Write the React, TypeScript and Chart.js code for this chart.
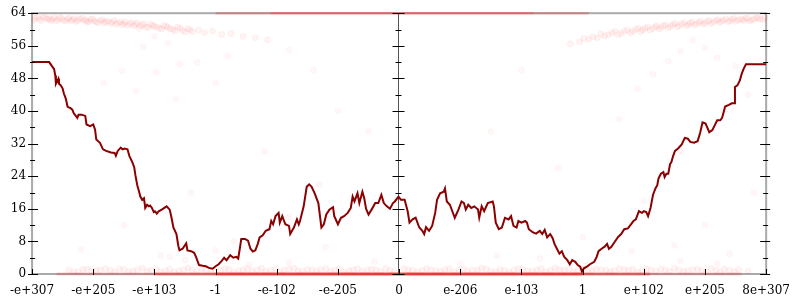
import React, { useEffect, useRef } from "react";
import { Chart, registerables } from "chart.js";
Chart.register(...registerables);

// x axis: 13 evenly spaced tick positions (0..1200, step 100)
const xTickLabels = ["-e+307", "-e+205", "-e+103", "-1", "-e-102", "-e-205", "0", "e-206", "e-103", "1", "e+102", "e+205", "8e+307"];
const yTicks = [0, 8, 16, 24, 32, 40, 48, 56, 64];

// main dark-red series [x, y]
const mainSeries: [number, number][] = [
  [0, 52.0], [28, 52.0], [34, 50.7], [36, 50.3], [38, 48.7], [39, 46.7], [43, 47.9], [44, 46.7], [47, 46.3], [50, 45.5],
  [52, 44.3], [55, 43.1], [58, 41.1], [60, 40.9], [63, 40.7], [66, 40.3], [68, 39.5], [74, 38.3], [76, 39.1], [81, 39.1],
  [87, 38.8], [89, 36.7], [95, 36.3], [100, 36.7], [103, 35.4], [105, 33.0], [111, 32.2], [116, 30.6], [121, 30.2], [129, 29.8],
  [135, 29.7], [137, 29.0], [140, 30.2], [145, 31.0], [148, 30.6], [151, 30.8], [156, 30.6], [159, 29.0], [164, 27.4], [167, 26.2],
  [169, 24.2], [172, 21.8], [175, 20.2], [177, 19.0], [180, 18.2], [183, 18.6], [185, 16.2], [188, 17.0], [191, 16.6], [193, 16.8],
  [196, 16.2], [199, 15.2], [201, 15.4], [204, 14.8], [207, 15.4], [212, 15.8], [220, 16.6], [225, 15.8], [228, 13.8], [231, 11.4],
  [236, 9.8], [239, 7.0], [241, 5.8], [246, 6.2], [252, 7.5], [254, 5.8], [260, 5.6], [265, 5.2], [268, 4.2], [271, 3.0],
  [273, 2.2], [279, 2.0], [284, 1.9], [289, 1.5], [295, 1.3], [300, 1.9], [305, 2.4], [310, 3.2], [314, 4.0], [318, 3.4],
  [324, 4.6], [329, 4.0], [334, 4.2], [337, 3.8], [340, 6.6], [342, 8.6], [348, 8.6], [353, 8.2], [357, 6.2], [361, 5.5],
  [365, 5.8], [369, 7.4], [372, 9.0], [377, 9.5], [382, 10.6], [388, 11.0], [391, 13.0], [394, 12.2], [398, 14.2], [403, 15.0],
  [405, 12.6], [409, 14.2], [414, 12.2], [420, 11.8], [422, 9.8], [428, 11.4], [433, 13.4], [436, 12.2], [438, 13.0], [444, 16.6],
  [449, 21.4], [453, 22.0], [457, 21.4], [462, 19.8], [468, 17.4], [473, 11.4], [477, 12.2], [481, 14.6], [486, 15.8], [492, 16.4],
  [494, 14.2], [500, 12.2], [505, 13.8], [510, 14.2], [516, 15.0], [521, 16.2], [524, 19.0], [527, 17.8], [532, 19.8], [535, 17.4],
  [540, 20.2], [543, 18.6], [546, 16.0], [550, 14.6], [555, 15.8], [561, 17.4], [566, 17.4], [571, 19.4], [575, 17.4], [580, 16.6],
  [585, 16.0], [590, 17.4], [593, 17.8], [599, 19.0], [603, 18.2], [609, 18.2], [614, 15.4], [617, 12.6], [622, 13.4], [627, 13.8],
  [633, 11.4], [638, 10.6], [641, 9.8], [644, 11.5], [649, 10.6], [654, 11.8], [659, 15.0], [662, 18.2], [667, 19.8], [673, 20.2],
  [675, 21.0], [678, 17.8], [683, 17.0], [687, 15.4], [691, 13.8], [697, 15.8], [702, 17.8], [706, 17.4], [709, 15.8], [713, 17.0],
  [718, 16.2], [723, 16.6], [729, 15.8], [731, 13.8], [735, 16.6], [739, 15.4], [745, 17.4], [753, 17.8], [755, 16.6], [758, 12.6],
  [763, 11.0], [768, 11.4], [773, 13.8], [779, 13.4], [783, 14.2], [787, 11.8], [792, 11.4], [795, 13.0], [800, 12.6], [806, 13.0],
  [809, 12.6], [812, 11.0], [819, 10.2], [824, 9.9], [830, 10.6], [834, 9.8], [838, 10.8], [842, 9.0], [847, 9.8], [851, 8.8],
  [854, 7.4], [858, 6.2], [862, 5.0], [866, 5.6], [870, 4.2], [875, 3.4], [879, 2.4], [883, 3.4], [888, 3.0], [892, 2.2],
  [896, 1.8], [899, 0.6], [902, 1.4], [907, 1.8], [912, 2.4], [919, 3.0], [923, 4.2], [926, 5.6], [931, 6.2], [936, 6.7],
  [940, 7.4], [943, 6.2], [947, 6.7], [952, 7.8], [958, 9.1], [963, 9.8], [968, 11.0], [974, 11.2], [979, 12.2], [983, 13.0],
  [987, 13.4], [992, 15.4], [997, 15.0], [1000, 15.4], [1004, 15.2], [1007, 14.2], [1011, 16.2], [1015, 19.4], [1019, 21.0], [1022, 21.8],
  [1024, 23.4], [1028, 24.6], [1032, 25.0], [1034, 23.8], [1037, 24.6], [1040, 24.6], [1043, 27.0], [1045, 27.4], [1048, 29.0], [1051, 30.2],
  [1056, 30.8], [1062, 31.8], [1067, 33.4], [1072, 33.2], [1076, 32.4], [1082, 32.2], [1088, 32.6], [1092, 34.6], [1096, 37.2], [1101, 36.9],
  [1107, 34.8], [1112, 35.3], [1120, 37.7], [1125, 37.7], [1128, 38.3], [1133, 41.1], [1139, 41.5], [1144, 41.9], [1148, 41.9], [1149, 45.9],
  [1153, 46.3], [1157, 47.5], [1160, 49.1], [1163, 50.3], [1167, 51.5], [1200, 51.5],
];

// faint sample clouds
const topLeftCloud: [number, number][] = [
  [5, 62.8], [12, 62.5], [18, 63], [25, 62.6], [30, 62.2], [36, 62.9], [42, 62.4], [48, 62.7], [55, 62.1], [60, 62.8],
  [66, 62.4], [72, 62.0], [78, 62.6], [85, 62.3], [90, 61.8], [96, 62.5], [102, 62.1], [108, 61.7], [115, 62.4], [120, 61.9],
  [128, 61.5], [134, 62.2], [140, 61.6], [147, 61.2], [152, 61.9], [160, 61.4], [166, 60.9], [172, 61.6], [180, 61.1], [186, 60.6],
  [194, 61.3], [200, 60.8], [208, 60.3], [215, 61.0], [222, 60.5], [230, 60.0], [238, 60.6], [246, 59.8], [255, 60.2], [262, 59.5],
  [272, 59.9], [282, 59.2], [295, 59.6], [310, 58.8], [325, 59.0], [345, 58.3], [365, 58.0], [385, 57.5],
  [3, 62.3], [9, 63.0], [15, 62.2], [22, 62.9], [28, 62.7], [33, 62.4], [39, 62.1], [45, 62.9], [51, 62.3], [58, 62.5],
  [63, 62.1], [69, 62.7], [75, 62.2], [82, 62.8], [88, 62.2], [93, 62.0], [99, 62.6], [105, 61.8], [112, 62.2], [118, 61.6],
  [124, 62.0], [131, 61.8], [137, 61.3], [144, 61.9], [150, 61.4], [156, 61.0], [163, 61.7], [169, 61.2], [176, 60.8], [183, 61.4],
  [190, 60.5], [197, 61.0], [204, 60.6], [212, 60.1], [219, 60.8], [226, 60.2], [234, 59.7], [242, 60.3], [250, 59.4], [258, 59.9],
];
const topRightCloud: [number, number][] = [
  [1198, 62.9], [1190, 62.5], [1184, 62.8], [1177, 62.3], [1170, 62.7], [1164, 62.2], [1158, 62.6], [1150, 62.0], [1144, 62.5], [1138, 61.9],
  [1130, 62.3], [1124, 61.7], [1118, 62.2], [1110, 61.5], [1104, 62.0], [1097, 61.3], [1090, 61.8], [1083, 61.1], [1076, 61.6], [1070, 60.9],
  [1062, 61.4], [1055, 60.7], [1048, 61.2], [1040, 60.4], [1032, 60.9], [1025, 60.1], [1018, 60.6], [1010, 59.8], [1002, 60.3], [995, 59.5],
  [987, 60.0], [978, 59.2], [968, 59.6], [958, 58.8], [948, 59.2], [936, 58.4], [924, 58.0], [910, 57.6], [895, 57.0], [880, 56.5],
  [1195, 62.4], [1187, 62.9], [1180, 62.6], [1173, 62.1], [1167, 62.8], [1161, 62.4], [1154, 62.3], [1147, 62.7], [1141, 62.1], [1134, 62.6],
  [1127, 62.0], [1121, 62.4], [1114, 61.8], [1107, 62.2], [1100, 61.6], [1093, 62.0], [1086, 61.4], [1079, 61.9], [1073, 61.2], [1066, 61.7],
  [1058, 61.0], [1051, 61.5], [1044, 60.8], [1036, 61.1], [1028, 60.5], [1021, 60.9], [1014, 60.2], [1006, 60.6], [998, 59.9], [991, 60.3],
  [982, 59.6], [973, 59.9], [963, 59.1], [953, 59.5], [942, 58.7], [930, 58.9], [917, 58.2], [902, 57.8],
];
const bottomCloud: [number, number][] = [
  [60, 1.0], [75, 0.6], [90, 1.2], [105, 0.8], [120, 1.3], [135, 0.5], [150, 1.1], [165, 0.7], [180, 1.4], [195, 0.9],
  [210, 0.4], [225, 1.2], [240, 0.8], [255, 1.5], [270, 0.6], [285, 1.1], [300, 0.9], [315, 1.3], [330, 0.5], [345, 1.0],
  [360, 0.7], [375, 1.4], [390, 0.9], [405, 0.5], [420, 1.2], [435, 0.8], [450, 1.1], [465, 0.6], [480, 1.3], [495, 0.9],
  [510, 0.4], [525, 1.0], [540, 0.7], [555, 1.2], [570, 0.6], [585, 0.9], [615, 1.0], [630, 0.6], [645, 1.3], [660, 0.8],
  [675, 1.1], [690, 0.5], [705, 1.2], [720, 0.9], [735, 1.4], [750, 0.7], [765, 1.1], [780, 0.5], [795, 1.3], [810, 0.8],
  [825, 1.0], [840, 0.6], [855, 1.4], [870, 0.9], [885, 0.5], [900, 1.2], [915, 0.8], [930, 1.1], [945, 0.6], [960, 1.3],
  [975, 0.9], [990, 0.5], [1005, 1.2], [1020, 0.7], [1035, 1.0], [1050, 1.4], [1065, 0.6], [1080, 1.1], [1095, 0.8], [1110, 1.3],
  [1125, 0.5], [1140, 0.9], [1155, 1.1], [1170, 0.7],
  [68, 0.5], [83, 1.1], [98, 0.7], [112, 1.0], [128, 0.9], [143, 1.2], [158, 0.6], [172, 1.0], [188, 0.7], [203, 1.1],
  [218, 0.8], [232, 0.5], [248, 1.1], [262, 0.9], [278, 1.3], [292, 0.5], [308, 0.8], [322, 1.1], [338, 0.8], [352, 1.3],
  [368, 1.0], [382, 0.6], [398, 1.2], [412, 0.9], [428, 1.4], [442, 0.6], [458, 1.0], [472, 1.1], [488, 0.6], [502, 1.2],
  [518, 0.8], [532, 1.3], [548, 0.9], [562, 1.0], [578, 1.3], [592, 0.6], [608, 1.3], [622, 0.9], [638, 0.9], [652, 1.1],
  [668, 0.6], [682, 1.3], [698, 0.9], [712, 0.6], [728, 1.0], [742, 1.2], [758, 0.5], [772, 0.9], [788, 1.0], [802, 1.1],
  [818, 0.6], [832, 1.3], [848, 0.9], [862, 1.1], [878, 1.2], [892, 0.8], [908, 0.6], [922, 1.3], [938, 0.9], [952, 0.8],
  [968, 1.1], [982, 1.2], [998, 0.8], [1012, 1.0], [1028, 1.2], [1042, 0.6], [1058, 1.0], [1072, 0.8], [1088, 1.2], [1102, 0.6],
  [1118, 0.9], [1132, 1.2], [1148, 0.6],
];
const strayCloud: [number, number][] = [
  [175, 60.2], [200, 58.3], [182, 55.8], [222, 56.6], [242, 51.5], [270, 52.0], [147, 49.9], [202, 49.6], [117, 47.0], [170, 45.0],
  [235, 43.0], [300, 47.0], [320, 53.5], [420, 55], [460, 50], [500, 40], [380, 30], [260, 20], [150, 12], [330, 8],
  [420, 14], [80, 6], [210, 4.5], [470, 22], [550, 35],
  [1080, 57.3], [1100, 55.5], [1060, 54.6], [1120, 53.0], [1040, 52.2], [1150, 51.0], [1015, 49.0], [1170, 44.0], [990, 45.5], [1130, 40],
  [1060, 30], [960, 38], [1180, 20], [1100, 12], [1000, 18], [900, 9], [1140, 5], [1050, 7], [860, 26], [800, 50], [750, 35],
  [225, 4.2], [250, 3.5], [300, 5.8], [355, 2.2], [420, 2.8], [480, 6.5], [560, 3.0], [700, 2.5], [760, 4.5], [830, 3.8],
  [905, 2.0], [980, 5.5], [1060, 3.2], [1120, 2.6],
];
// densely packed samples sitting on 0 and 64
const bottomDenseWide: [number, number][] = [[40, 0], [1160, 0]];
const bottomDenseMid: [number, number][] = [[200, 0], [1010, 0]];
const bottomDenseCore: [number, number][] = [[300, 0], [900, 0]];
const topDense: [number, number][] = [[300, 64], [910, 64]];
const topDenseCore: [number, number][] = [[390, 64], [820, 64]];

const toPts = (a: [number, number][]) => a.map(([x, y]) => ({ x, y }));

const axesPlugin = {
  id: "gnuplotAxes",
  beforeDatasetsDraw(chart: any) {
    const { ctx, chartArea: a, scales } = chart;
    ctx.save();
    ctx.strokeStyle = "#aaaaaa";
    ctx.lineWidth = 2;
    ctx.strokeRect(a.left, a.top, a.right - a.left, a.bottom - a.top);
    const cx = Math.round(scales.x.getPixelForValue(600)) - 0.5;
    ctx.strokeStyle = "#555555";
    ctx.lineWidth = 1;
    ctx.beginPath();
    ctx.moveTo(cx, a.top);
    ctx.lineTo(cx, a.bottom);
    ctx.stroke();
    ctx.restore();
  },
  afterDatasetsDraw(chart: any) {
    const { ctx, chartArea: a, scales } = chart;
    ctx.save();
    ctx.strokeStyle = "#000000";
    ctx.lineWidth = 1;
    const cx = Math.round(scales.x.getPixelForValue(600)) - 0.5;
    for (let v = 0; v <= 64; v += 4) {
      const major = v % 8 === 0;
      const py = Math.round(scales.y.getPixelForValue(v)) + 0.5;
      ctx.beginPath();
      ctx.moveTo(a.left - (major ? 4 : 2), py);
      ctx.lineTo(a.left + (major ? 6 : 3), py);
      ctx.moveTo(a.right - (major ? 6 : 3), py);
      ctx.lineTo(a.right + (major ? 4 : 2), py);
      ctx.moveTo(cx - (major ? 6 : 3), py);
      ctx.lineTo(cx + (major ? 6 : 3), py);
      ctx.stroke();
    }
    for (let i = 0; i < xTickLabels.length; i++) {
      const px = Math.round(scales.x.getPixelForValue(i * 100)) + 0.5;
      ctx.beginPath();
      ctx.moveTo(px, a.bottom + 1);
      ctx.lineTo(px, a.bottom - 5);
      ctx.stroke();
    }
    ctx.restore();
  },
};

const cloudStyle = {
  showLine: false,
  pointRadius: 3,
  pointBackgroundColor: "rgba(255,0,0,0.045)",
  pointBorderColor: "rgba(255,0,0,0.05)",
  pointBorderWidth: 1,
};
const strayStyle = {
  showLine: false,
  pointRadius: 3,
  pointBackgroundColor: "rgba(255,0,0,0.03)",
  pointBorderColor: "rgba(255,0,0,0.03)",
  pointBorderWidth: 1,
};
const denseStyle = (alpha: number, w: number) => ({
  showLine: true,
  pointRadius: 0,
  borderColor: `rgba(255,0,0,${alpha})`,
  borderWidth: w,
  clip: false as const,
});

export default function App() {
  const ref = useRef<HTMLCanvasElement>(null);
  useEffect(() => {
    if (!ref.current) return;
    const chart = new Chart(ref.current, {
      type: "scatter",
      data: {
        datasets: [
          {
            data: toPts(mainSeries),
            showLine: true,
            borderColor: "#8b0000",
            borderWidth: 2,
            pointRadius: 0,
            tension: 0,
          } as any,
          { data: toPts(topLeftCloud), ...cloudStyle, clip: false } as any,
          { data: toPts(topRightCloud), ...cloudStyle, clip: false } as any,
          { data: toPts(bottomCloud), ...cloudStyle } as any,
          { data: toPts(strayCloud), ...strayStyle } as any,
          { data: toPts(bottomDenseCore), ...denseStyle(0.35, 3) } as any,
          { data: toPts(bottomDenseMid), ...denseStyle(0.3, 3) } as any,
          { data: toPts(bottomDenseWide), ...denseStyle(0.18, 3) } as any,
          { data: toPts(topDenseCore), ...denseStyle(0.15, 2.5) } as any,
          { data: toPts(topDense), ...denseStyle(0.2, 2.5) } as any,
        ],
      },
      options: {
        animation: false,
        responsive: false,
        events: [],
        layout: { padding: { left: 0, right: 25, top: 8, bottom: 0 }, autoPadding: false } as any,
        plugins: { legend: { display: false }, tooltip: { enabled: false } },
        scales: {
          x: {
            type: "linear",
            min: 0,
            max: 1200,
            afterFit: (s: any) => { s.height = 26; },
            grid: { display: false, drawTicks: false },
            border: { display: false },
            ticks: {
              stepSize: 100,
              autoSkip: false,
              maxRotation: 0,
              padding: 10,
              color: "#000",
              font: { family: "'DejaVu Serif'", size: 12 },
              callback: (v: any) => xTickLabels[Math.round(Number(v) / 100)] ?? "",
            },
          },
          y: {
            type: "linear",
            min: 0,
            max: 64,
            afterFit: (s: any) => { s.width = 24; },
            grid: { display: false, drawTicks: false },
            border: { display: false },
            ticks: {
              stepSize: 8,
              padding: 6,
              color: "#000",
              font: { family: "'DejaVu Serif'", size: 12 },
              callback: (v: any) => (yTicks.includes(Number(v)) ? String(v) : ""),
            },
          },
        },
      },
      plugins: [axesPlugin],
    });
    return () => chart.destroy();
  }, []);
  return (
    <div style={{ position: "fixed", left: 0, top: 0, width: 800, height: 300, background: "#fff" }}>
      <canvas ref={ref} width={800} height={300} style={{ display: "block" }} />
    </div>
  );
}
